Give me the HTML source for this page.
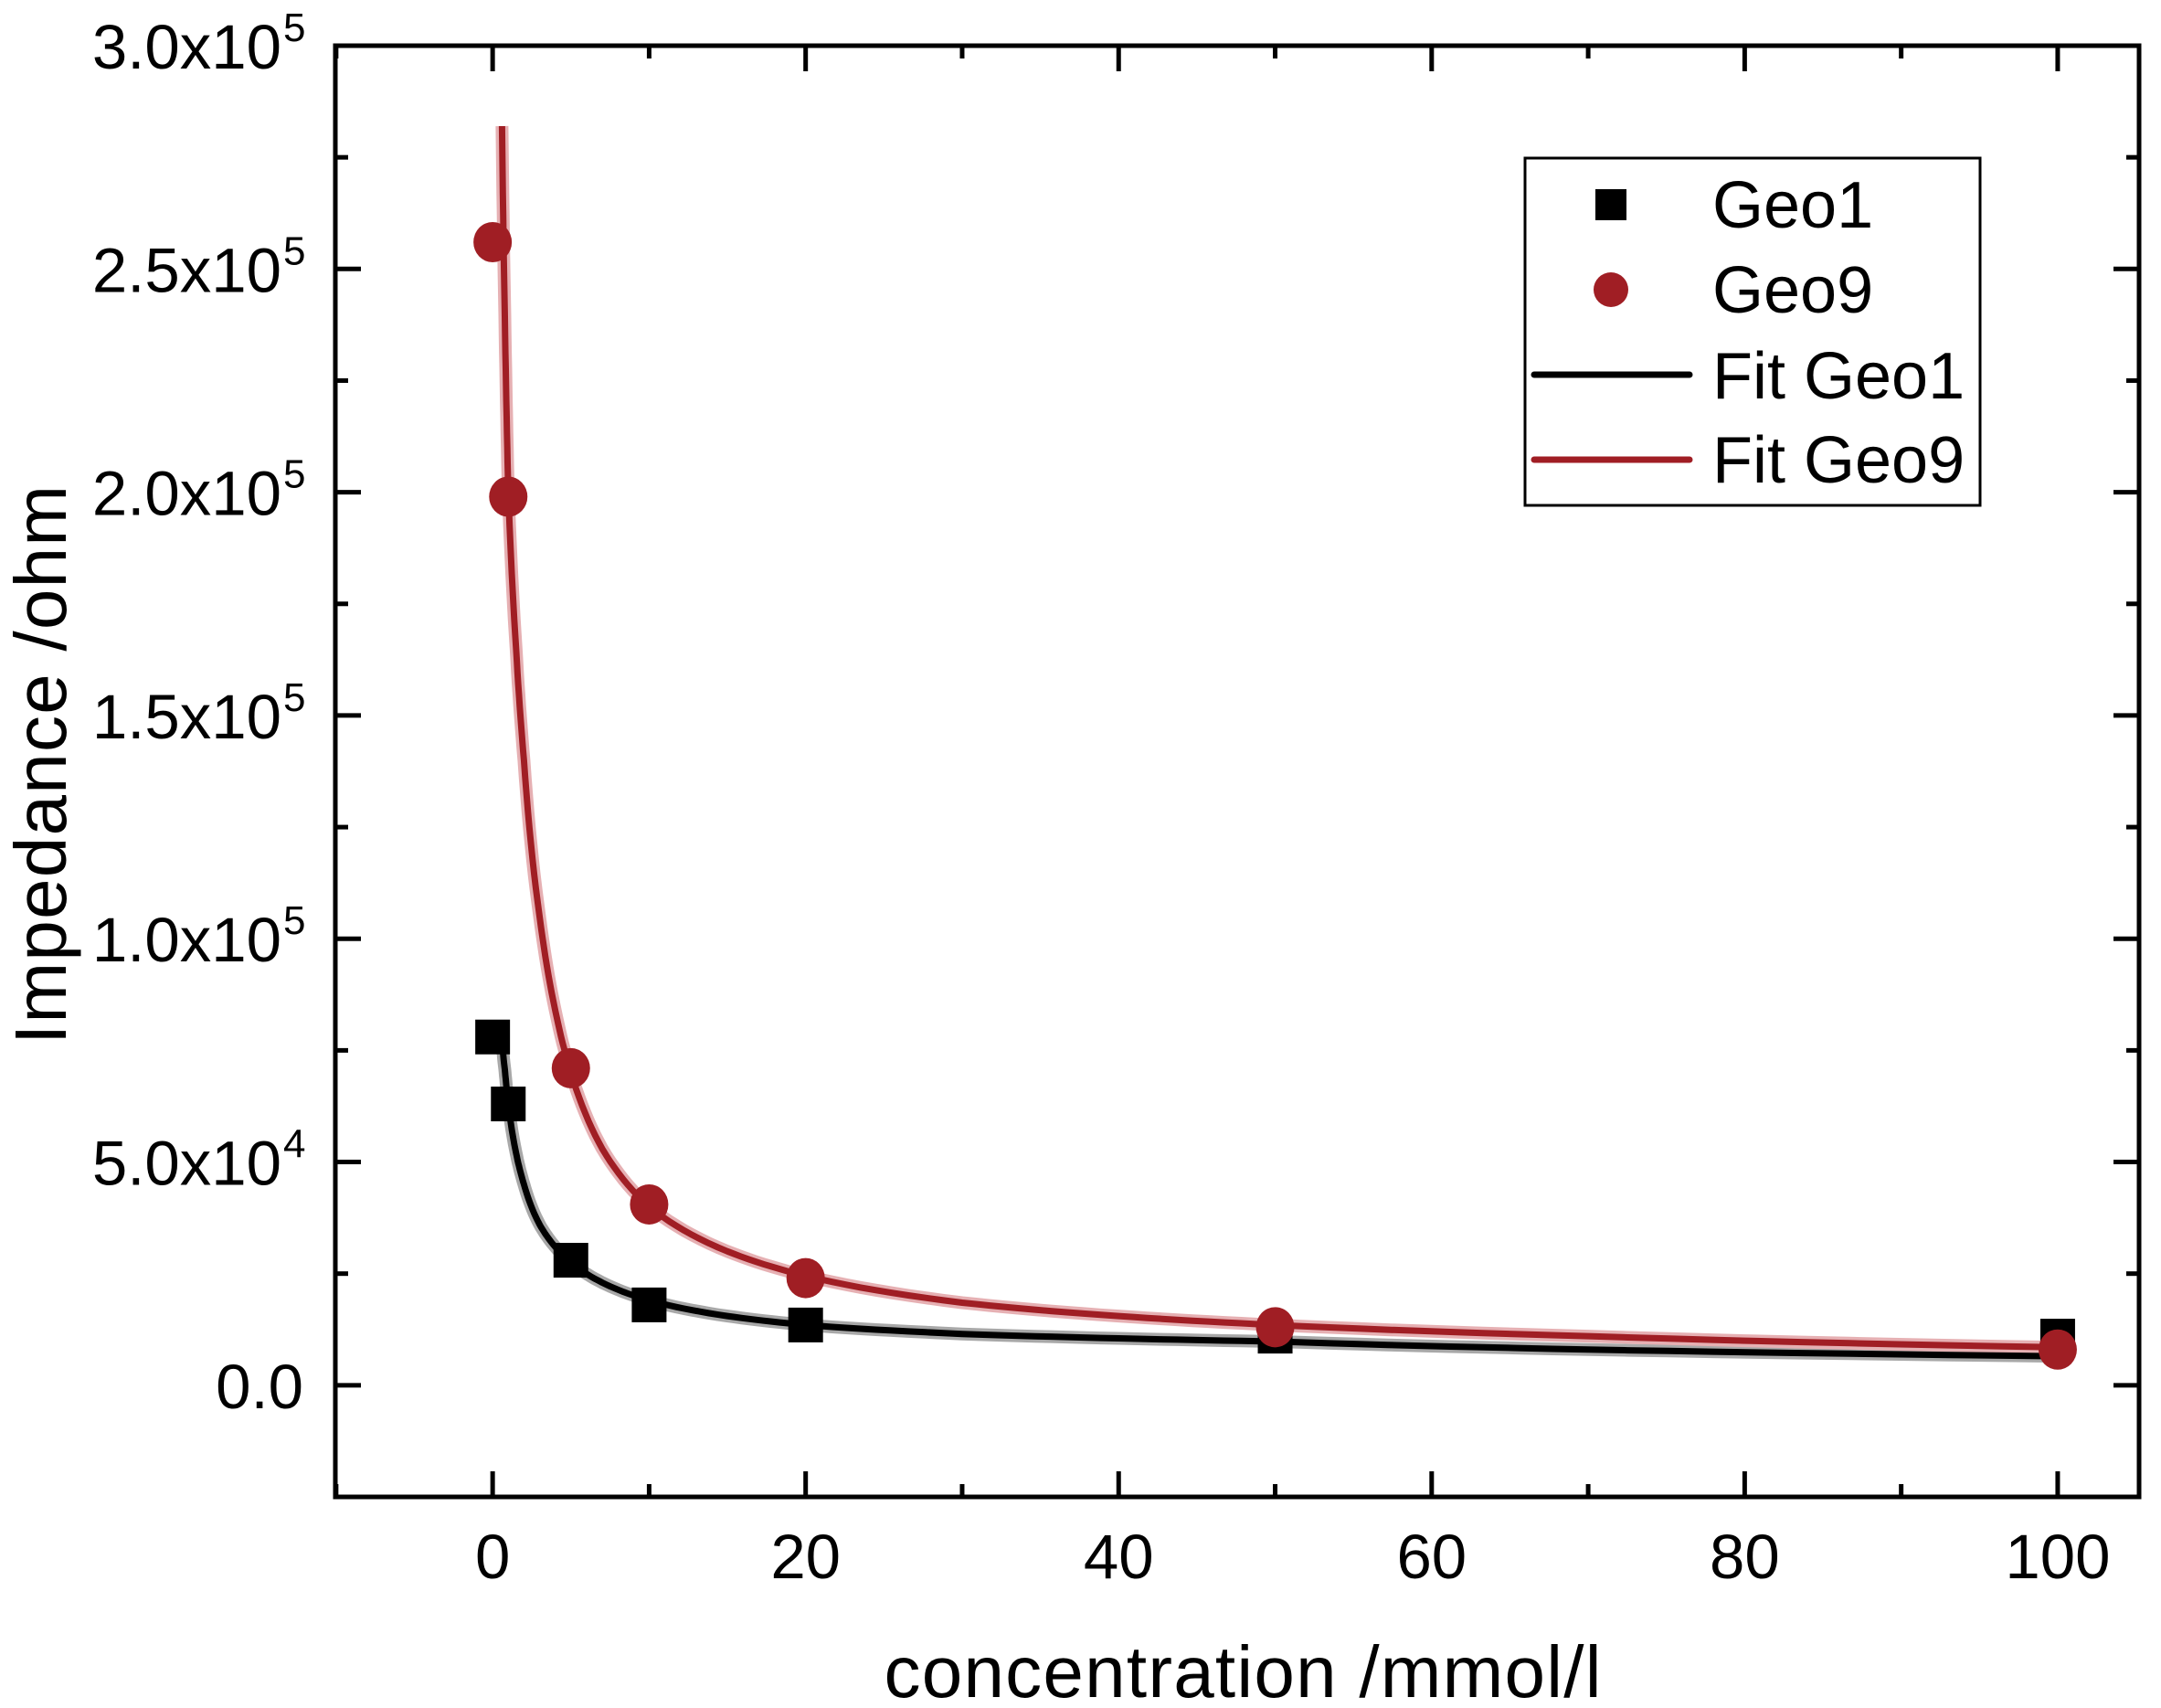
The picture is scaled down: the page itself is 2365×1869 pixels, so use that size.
<!DOCTYPE html>
<html><head><meta charset="utf-8"><style>
html,body{margin:0;padding:0;background:#fff;}
svg{display:block;font-family:"Liberation Sans",Arial,sans-serif;}
</style></head><body>
<svg id="chart" width="2365" height="1869" viewBox="0 0 2365 1869">
<g id="bands"></g><g id="lines"></g><g id="marks"></g><g id="axes"></g>
</svg>
<script>
const geo1X = [0, 1, 5, 10, 20, 50, 100];
const geo1Y = [78000, 63000, 28000, 18000, 13500, 11000, 11000];
const geo9X = [0, 1, 5, 10, 20, 50, 100];
const geo9Y = [256000, 199000, 71000, 40500, 24000, 13000, 8000];
const fit1X = [0.6, 0.8, 1, 1.5, 2, 3, 4, 5, 7, 10, 15, 20, 30, 40, 50, 70, 100];
const fit1Y = [77000, 70000, 63000, 52000, 45000, 36000, 31000, 27500, 23000, 19000, 15500, 13500, 11500, 10500, 9800, 8000, 6500];
const fit9X = [0.6, 0.8, 1, 1.5, 2, 3, 4, 5, 7, 10, 15, 20, 30, 40, 50, 70, 100];
const fit9Y = [282000, 235000, 200000, 165000, 140000, 105000, 84000, 70000, 53000, 40000, 30000, 24500, 18500, 15500, 13500, 11000, 8500];
const xTicks = [0, 20, 40, 60, 80, 100];
const yTickMant = ["0.0", "5.0x10", "1.0x10", "1.5x10", "2.0x10", "2.5x10", "3.0x10"];
const yTickExp = ["", "4", "5", "5", "5", "5", "5"];
const yTickVals = [0, 50000, 100000, 150000, 200000, 250000, 300000];

const L=367,R=2341,T=50,B=1638;
const xMin=-10.05,xMax=105.2,yMin=-25000,yMax=300000;
const X=v=>L+(v-xMin)/(xMax-xMin)*(R-L);
const Y=v=>B-(v-yMin)/(yMax-yMin)*(B-T);
const NS="http://www.w3.org/2000/svg";
function mk(tag,attrs,parent){const e=document.createElementNS(NS,tag);for(const k in attrs)e.setAttribute(k,attrs[k]);parent.appendChild(e);return e;}
const bands=document.getElementById('bands'),lines=document.getElementById('lines'),marks=document.getElementById('marks'),axes=document.getElementById('axes');

function smoothPath(xs,ys){
  const pts=[];
  for(let i=0;i<xs.length-1;i++){
    for(let t=0;t<1;t+=0.1){
      const lx=Math.log(xs[i])*(1-t)+Math.log(xs[i+1])*t;
      const ly=Math.log(ys[i])*(1-t)+Math.log(ys[i+1])*t;
      pts.push([X(Math.exp(lx)),Y(Math.exp(ly))]);
    }
  }
  pts.push([X(xs[xs.length-1]),Y(ys[ys.length-1])]);
  return 'M'+pts.map(p=>p[0].toFixed(1)+','+p[1].toFixed(1)).join(' L');
}
let b;
b=mk('path',{d:smoothPath(fit1X,fit1Y),fill:'none',stroke:'#a8a8a8','stroke-width':14,'stroke-linejoin':'round'},bands);

b=mk('path',{d:smoothPath(fit9X,fit9Y),fill:'none',stroke:'#e6b0b3','stroke-width':14,'stroke-linejoin':'round'},bands);

b=mk('path',{d:smoothPath(fit1X,fit1Y),fill:'none',stroke:'#000','stroke-width':7,'stroke-linejoin':'round'},lines);

b=mk('path',{d:smoothPath(fit9X,fit9Y),fill:'none',stroke:'#a01e24','stroke-width':7,'stroke-linejoin':'round'},lines);


geo1X.forEach((x,i)=>{
  const e=mk('rect',{x:X(x)-19,y:Y(geo1Y[i])-19,width:38,height:38,fill:'#000'},marks);
  
  
});
geo9X.forEach((x,i)=>{
  const e=mk('ellipse',{cx:X(x),cy:Y(geo9Y[i]),rx:21,ry:22,fill:'#a01e24'},marks);
  
  
});

let f=mk('rect',{x:L,y:T,width:R-L,height:B-T,fill:'none',stroke:'#000','stroke-width':5},axes);

for(let v=-10;v<=100;v+=10){
  const maj=v%20===0, len=maj?28:14, x=X(v);
  mk('line',{x1:x,y1:B,x2:x,y2:B-len,stroke:'#000','stroke-width':5},axes);
  mk('line',{x1:x,y1:T,x2:x,y2:T+len,stroke:'#000','stroke-width':5},axes);
}
for(let v=-25000;v<=300000;v+=25000){
  const maj=v%50000===0, len=maj?28:14, y=Y(v);
  mk('line',{x1:L,y1:y,x2:L+len,y2:y,stroke:'#000','stroke-width':5},axes);
  mk('line',{x1:R,y1:y,x2:R-len,y2:y,stroke:'#000','stroke-width':5},axes);
}
xTicks.forEach(v=>{
  const t=mk('text',{x:X(v),y:1727,'font-size':69,'text-anchor':'middle'},axes);
  t.textContent=v;
  
  
});
yTickVals.forEach((v,i)=>{
  const y=Y(v)+25;
  const t=mk('text',{x:yTickExp[i]?308:332,y:y,'font-size':69,'text-anchor':'end'},axes);
  t.textContent=yTickMant[i];
  
  
  if(yTickExp[i]){
    const s=mk('text',{x:310,y:y-30,'font-size':44},axes);
    s.textContent=yTickExp[i];
    
    
  }
});
</script>
<script>
const svg=document.getElementById('chart');
svg.insertAdjacentHTML('beforeend',`
<text x="1360" y="1857" font-size="80" text-anchor="middle" textLength="785">concentration /mmol/l</text>
<text transform="translate(72,837) rotate(-90)" font-size="80" text-anchor="middle" textLength="612">Impedance /ohm</text>
<g>
<rect x="1669" y="173" width="498" height="380" fill="#fff" stroke="#000" stroke-width="3"/>
<rect x="1746" y="207" width="34" height="34" fill="#000"/>
<text x="1874" y="249" font-size="72">Geo1</text>
<circle cx="1763" cy="317" r="19" fill="#a01e24"/>
<text x="1874" y="342" font-size="72">Geo9</text>
<line x1="1679" y1="410" x2="1849" y2="410" stroke="#000" stroke-width="7" stroke-linecap="round"/>
<text x="1874" y="436" font-size="72">Fit Geo1</text>
<line x1="1679" y1="503" x2="1849" y2="503" stroke="#a01e24" stroke-width="7" stroke-linecap="round"/>
<text x="1874" y="528" font-size="72">Fit Geo9</text>
</g>`);
</script>
</body></html>
